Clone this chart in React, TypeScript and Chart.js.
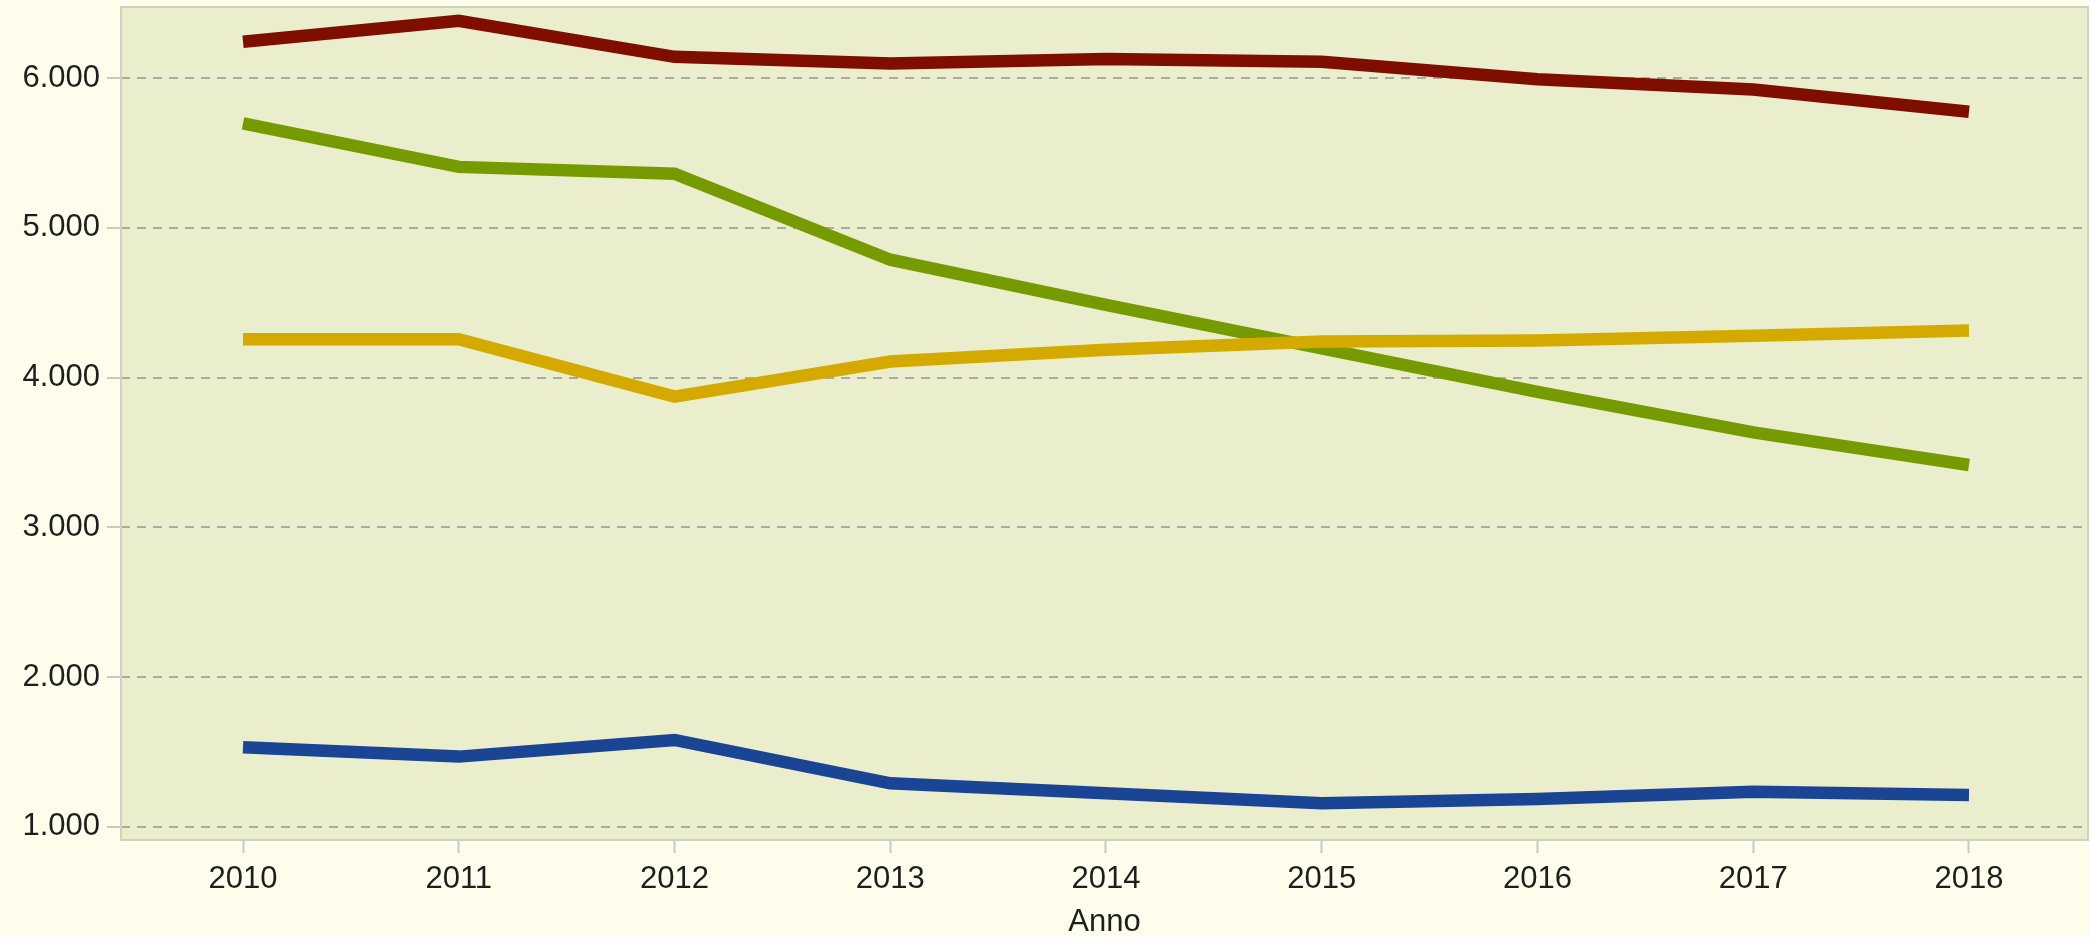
import React, { useEffect, useRef } from 'react';
import { Chart, registerables } from 'chart.js';

Chart.register(...registerables);

// ---- data ----
const years = [2010, 2011, 2012, 2013, 2014, 2015, 2016, 2017, 2018];
const seriesRed = [6243, 6383, 6142, 6098, 6127, 6109, 5993, 5924, 5775];
const seriesYellow = [4256, 4256, 3873, 4107, 4185, 4241, 4247, 4279, 4314];
const seriesGreen = [5697, 5407, 5362, 4787, 4485, 4194, 3905, 3634, 3416];
const seriesBlue = [1530, 1468, 1579, 1290, 1223, 1156, 1185, 1234, 1212];
const yTicks = [1000, 2000, 3000, 4000, 5000, 6000];
const xTitle = 'Anno';

// ---- styles ----
const PAGE_BG = '#fefcea';
const PLOT_BG = '#ebeecd';
const PLOT_BORDER = '#cfd0c6';
const GRID = '#a9aaa4';
const TICK = '#c9cac4';
const TEXT = '#1e1e1e';
const FONT = { family: '"Liberation Sans", Arial, sans-serif', size: 31 };

const fmt = (v: number) => String(Math.round(v)).replace(/\B(?=(\d{3})+(?!\d))/g, '.');

const bgPlugin = {
  id: 'bgPlugin',
  beforeDraw(chart: any) {
    const { ctx, chartArea: a, width, height } = chart;
    ctx.save();
    ctx.fillStyle = PAGE_BG;
    ctx.fillRect(0, 0, width, height);
    ctx.fillStyle = PLOT_BG;
    ctx.fillRect(a.left, a.top, a.right - a.left, a.bottom - a.top);
    ctx.restore();
  },
  afterDraw(chart: any) {
    const { ctx, chartArea: a } = chart;
    ctx.save();
    ctx.strokeStyle = PLOT_BORDER;
    ctx.lineWidth = 2;
    ctx.strokeRect(a.left, a.top, a.right - a.left, a.bottom - a.top);
    ctx.restore();
  },
};

const mk = (label: string, values: number[], color: string) => ({
  label,
  data: years.map((y, i) => ({ x: y, y: values[i] })),
  borderColor: color,
  backgroundColor: color,
  borderWidth: 12.5,
  pointRadius: 0,
  pointHoverRadius: 0,
  tension: 0,
  borderCapStyle: 'butt' as const,
  borderJoinStyle: 'miter' as const,
  fill: false,
});

export default function App() {
  const ref = useRef<HTMLCanvasElement>(null);

  useEffect(() => {
    document.body.style.margin = '0';
    document.body.style.background = PAGE_BG;
    const chart = new Chart(ref.current as HTMLCanvasElement, {
      type: 'line',
      data: {
        datasets: [
          mk('Serie 1', seriesRed, '#7f0e00'),
          mk('Serie 3', seriesYellow, '#d4aa00'),
          mk('Serie 2', seriesGreen, '#769b00'),
          mk('Serie 4', seriesBlue, '#1a4595'),
        ],
      },
      options: {
        animation: false,
        responsive: false,
        maintainAspectRatio: false,
        layout: { padding: { top: 7, right: 2, left: 0, bottom: 0 } },
        plugins: {
          legend: { display: false },
          tooltip: { enabled: false },
          title: { display: false },
        },
        scales: {
          x: {
            type: 'linear',
            min: 2009.4345,
            max: 2018.5516,
            afterBuildTicks: (s: any) => {
              s.ticks = years.map((v) => ({ value: v }));
            },
            afterFit: (s: any) => {
              s.height = 97;
              s.paddingLeft = 0;
              s.paddingRight = 0;
            },
            grid: {
              drawOnChartArea: false,
              drawTicks: true,
              tickColor: TICK,
              tickLength: 13,
              tickWidth: 2,
            },
            border: { display: false },
            ticks: {
              font: FONT,
              color: TEXT,
              padding: 8,
              maxRotation: 0,
              autoSkip: false,
              callback: (v: any) => String(v),
            },
            title: {
              display: true,
              text: xTitle,
              font: FONT,
              color: TEXT,
              padding: { top: 0, bottom: -4 },
            },
          },
          y: {
            type: 'linear',
            min: 911,
            max: 6475,
            afterBuildTicks: (s: any) => {
              s.ticks = yTicks.map((v) => ({ value: v }));
            },
            afterFit: (s: any) => {
              s.width = 121;
              s.paddingTop = 0;
              s.paddingBottom = 0;
            },
            grid: {
              color: GRID,
              lineWidth: 2,
              drawTicks: true,
              tickColor: TICK,
              tickLength: 14,
              tickWidth: 2,
              tickBorderDash: [],
            },
            border: { display: false, dash: [9, 7] },
            ticks: {
              font: FONT,
              color: TEXT,
              padding: 7,
              callback: (v: any) => fmt(Number(v)),
            },
          },
        },
      },
      plugins: [bgPlugin],
    } as any);
    return () => chart.destroy();
  }, []);

  return (
    <div style={{ width: 2090, height: 937 }}>
      <canvas
        ref={ref}
        width={2090}
        height={937}
        style={{ display: 'block', width: 2090, height: 937 }}
      />
    </div>
  );
}
